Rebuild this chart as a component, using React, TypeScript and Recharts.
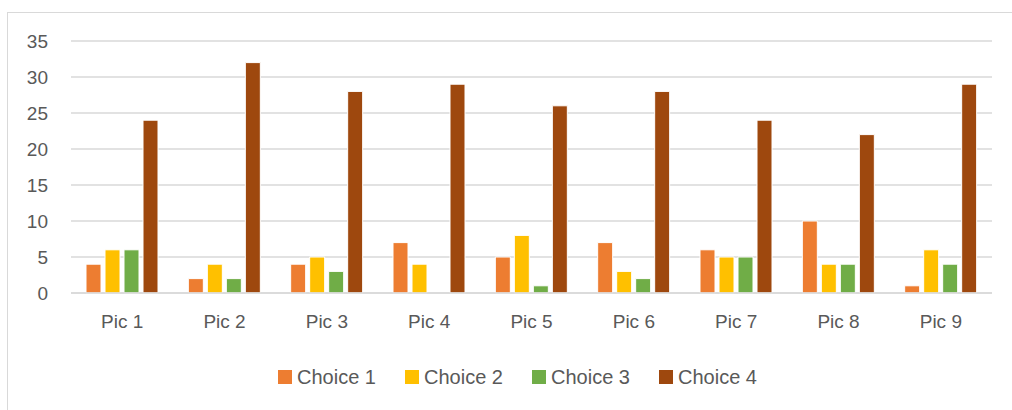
import { BarChart, Bar, XAxis, YAxis, CartesianGrid, Legend } from "recharts";

const pics = ["Pic 1", "Pic 2", "Pic 3", "Pic 4", "Pic 5", "Pic 6", "Pic 7", "Pic 8", "Pic 9"];
const choice1 = [4, 2, 4, 7, 5, 7, 6, 10, 1];
const choice2 = [6, 4, 5, 4, 8, 3, 5, 4, 6];
const choice3 = [6, 2, 3, 0, 1, 2, 5, 4, 4];
const choice4 = [24, 32, 28, 29, 26, 28, 24, 22, 29];
const yTicks = [0, 5, 10, 15, 20, 25, 30, 35];

const series = [
  { key: "Choice 1", color: "#ED7D31", values: choice1 },
  { key: "Choice 2", color: "#FFC000", values: choice2 },
  { key: "Choice 3", color: "#70AD47", values: choice3 },
  { key: "Choice 4", color: "#9E480E", values: choice4 },
];

const rows = pics.map((pic, i) => {
  const row: Record<string, string | number> = { pic };
  series.forEach((s) => (row[s.key] = s.values[i]));
  return row;
});

const FONT = "'Liberation Sans', Arial, sans-serif";
const TEXT = "#595959";

function LegendRow() {
  return (
    <div style={{ display: "flex", paddingLeft: 270, height: 24, alignItems: "center" }}>
      {series.map((s) => (
        <div key={s.key} style={{ width: 127, display: "flex", alignItems: "center" }}>
          <span style={{ width: 14, height: 14, background: s.color, marginRight: 5 }} />
          <span style={{ fontFamily: FONT, fontSize: 20, color: TEXT }}>{s.key}</span>
        </div>
      ))}
    </div>
  );
}

export default function App() {
  return (
    <>
      <style>{"html,body{margin:0;overflow:hidden}"}</style>
      <div
        style={{
          position: "absolute",
          left: 7,
          top: 12,
          width: 1012,
          height: 410,
          border: "1px solid #d9d9d9",
          boxSizing: "border-box",
          background: "#fff",
        }}
      >
        <BarChart
          width={1000}
          height={396}
          data={rows}
          margin={{ top: 28, right: 16, left: 0, bottom: 20 }}
          barSize={15}
          barGap={4}
        >
          <CartesianGrid vertical={false} stroke="#d9d9d9" strokeWidth={1.5} />
          <XAxis
            dataKey="pic"
            height={72}
            tickLine={false}
            tickSize={0}
            tickMargin={22}
            axisLine={{ stroke: "#d9d9d9", strokeWidth: 1.5 }}
            tick={{ fill: TEXT, fontSize: 19, fontFamily: FONT }}
          />
          <YAxis
            width={63}
            domain={[0, 35]}
            ticks={yTicks}
            axisLine={false}
            tickLine={false}
            tickSize={0}
            tickMargin={23}
            tick={{ fill: TEXT, fontSize: 19, fontFamily: FONT }}
          />
          <Legend
            verticalAlign="bottom"
            content={() => <LegendRow />}
            wrapperStyle={{ top: 352, left: 0, width: 1000, height: 24 }}
          />
          {series.map((s) => (
            <Bar
              key={s.key}
              dataKey={s.key}
              fill={s.color}
              stroke="#ffffff"
              strokeWidth={1}
              isAnimationActive={false}
            />
          ))}
        </BarChart>
      </div>
    </>
  );
}
